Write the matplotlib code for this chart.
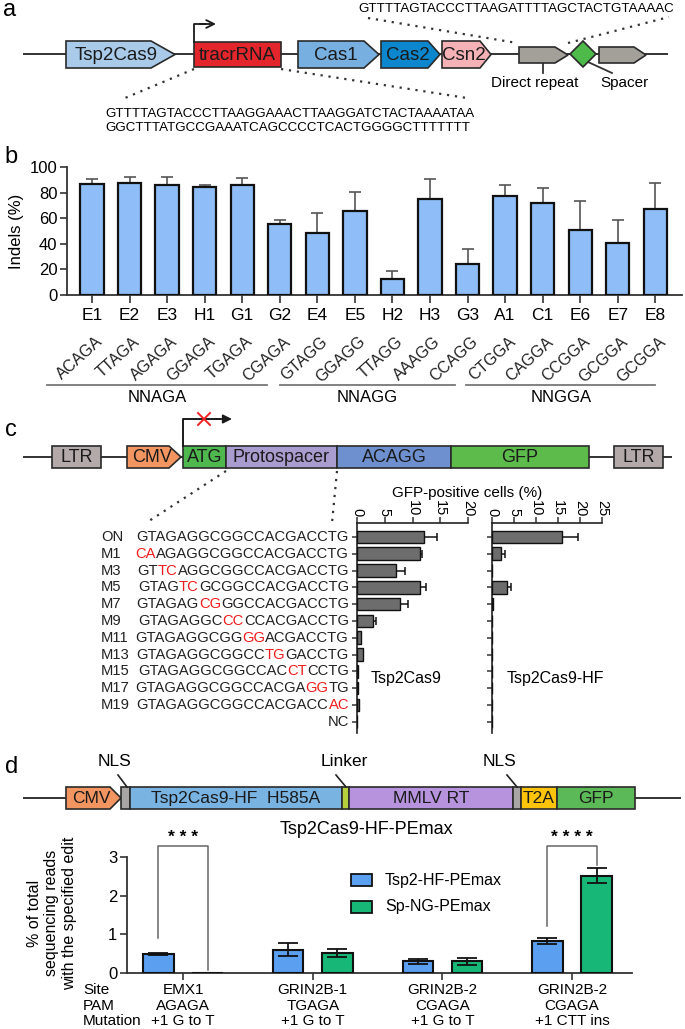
import matplotlib
matplotlib.use("Agg")
import matplotlib.pyplot as plt
from matplotlib.patches import Polygon, Rectangle
from matplotlib.transforms import blended_transform_factory
import numpy as np

plt.rcParams['font.family'] = ['Liberation Sans', 'DejaVu Sans']

W, H = 685, 1029

# ---- data ----
# panel b
b_sites = ["E1", "E2", "E3", "H1", "G1", "G2", "E4", "E5",
           "H2", "H3", "G3", "A1", "C1", "E6", "E7", "E8"]
b_pams = ["ACAGA", "TTAGA", "AGAGA", "GGAGA", "TGAGA", "CGAGA", "GTAGG", "GGAGG",
          "TTAGG", "AAAGG", "CCAGG", "CTGGA", "CAGGA", "CCGGA", "GCGGA", "GCGGA"]
b_indels = [86.7, 88.0, 85.9, 84.6, 86.4, 55.9, 48.3, 65.5,
            12.5, 75.2, 24.3, 77.5, 72.1, 51.2, 40.7, 67.4]
b_err = [3.9, 4.2, 6.8, 1.6, 5.5, 3.1, 16.2, 15.2,
         6.3, 15.7, 12.0, 8.4, 11.5, 22.2, 18.0, 20.6]
b_group_names = ["NNAGA", "NNAGG", "NNGGA"]
b_group_span = [(-1.19, 4.67), (5.01, 9.66), (9.97, 15.0)]

# panel c
c_names = ["ON", "M1", "M3", "M5", "M7", "M9", "M11", "M13", "M15", "M17", "M19", "NC"]
c_seqs = ["GTAGAGGCGGCCACGACCTG", "CAAGAGGCGGCCACGACCTG", "GTTCAGGCGGCCACGACCTG",
          "GTAGTCGCGGCCACGACCTG", "GTAGAGCGGGCCACGACCTG", "GTAGAGGCCCCCACGACCTG",
          "GTAGAGGCGGGGACGACCTG", "GTAGAGGCGGCCTGGACCTG", "GTAGAGGCGGCCACCTCCTG",
          "GTAGAGGCGGCCACGAGGTG", "GTAGAGGCGGCCACGACCAC", ""]
c_red = [None, (0, 2), (2, 4), (4, 6), (6, 8), (8, 10), (10, 12),
         (12, 14), (14, 16), (16, 18), (18, 20), None]
c_wt = [12.1, 11.4, 7.0, 11.3, 7.8, 2.9, 0.7, 1.1, 0.2, 0.1, 0.3, 0.0]
c_wt_err = [2.3, 0.4, 1.7, 1.2, 1.3, 0.5, 0.0, 0.0, 0.0, 0.0, 0.0, 0.0]
c_hf = [16.0, 2.1, 0.0, 3.3, 0.2, 0.0, 0.0, 0.0, 0.0, 0.0, 0.0, 0.0]
c_hf_err = [3.5, 0.8, 0.0, 1.0, 0.0, 0.0, 0.0, 0.0, 0.0, 0.0, 0.0, 0.0]

# panel d
d_sites = ["EMX1", "GRIN2B-1", "GRIN2B-2", "GRIN2B-2"]
d_pams = ["AGAGA", "TGAGA", "CGAGA", "CGAGA"]
d_muts = ["+1 G to T", "+1 G to T", "+1 G to T", "+1 CTT ins"]
d_series = ["Tsp2-HF-PEmax", "Sp-NG-PEmax"]
d_tsp = [0.49, 0.60, 0.30, 0.83]
d_tsp_err = [0.02, 0.17, 0.07, 0.07]
d_sp = [0.0, 0.52, 0.30, 2.52]
d_sp_err = [0.0, 0.10, 0.10, 0.19]

fig = plt.figure(figsize=(W / 100, H / 100), dpi=100)

# overlay in pixel coords for schematics and labels (drawn on top of the data axes)
ov = fig.add_axes([0, 0, 1, 1])
ov.set_xlim(0, W)
ov.set_ylim(H, 0)
ov.axis("off")
ov.set_zorder(10)


def pax(x0, y0, x1, y1):
    return fig.add_axes([x0 / W, 1 - y1 / H, (x1 - x0) / W, (y1 - y0) / H])


def gene(x0, x1, y0, y1, color, tip=0, label=None, fs=12, lw=1.2):
    if tip:
        pts = [(x0, y0), (x1 - tip, y0), (x1, (y0 + y1) / 2), (x1 - tip, y1), (x0, y1)]
    else:
        pts = [(x0, y0), (x1, y0), (x1, y1), (x0, y1)]
    ov.add_patch(Polygon(pts, closed=True, fc=color, ec="#2a2a2a", lw=lw,
                         joinstyle="miter", zorder=3))
    if label:
        ov.text((x0 + x1) / 2 - tip * 0.2, (y0 + y1) / 2 + 0.5, label, ha="center",
                va="center", fontsize=fs, color="#1a1a1a", zorder=4)


def dots(x0, y0, x1, y1):
    ov.plot([x0, x1], [y0, y1], color="#333333", lw=1.6, ls=(0, (1, 2.6)), zorder=2)


def letter(x, y, s):
    ov.text(x, y, s, fontsize=17, ha="left", va="center")


# ================= panel a =================
letter(3, 10, "a")
ov.plot([24, 667], [54, 54], color="#333333", lw=1.4, zorder=1)
gene(66, 175, 41, 68, "#a9cbe9", 24, "Tsp2Cas9", 13.5)
gene(194, 281, 42, 67, "#e3262b", 0, "tracrRNA", 13.5)
gene(298, 379, 41, 68, "#77b0e0", 15, "Cas1", 13.5)
gene(381, 440, 41, 68, "#0c87cd", 12, "Cas2", 13.5)
gene(442, 491, 41, 68, "#f4b2b7", 11, "Csn2", 13.5)
gene(519, 568, 47, 63, "#a39f99", 13)
gene(599, 646, 47, 63, "#a39f99", 12)
ov.add_patch(Polygon([(570, 54), (583, 41), (596, 54), (583, 67)], closed=True,
                     fc="#4dba4a", ec="#2a2a2a", lw=1.2, zorder=3))
ov.plot([194, 194, 205], [42, 24, 24], color="#1a1a1a", lw=1.3, zorder=4)
ov.annotate("", xy=(216, 24), xytext=(200, 24),
            arrowprops=dict(arrowstyle="->", lw=1.3, color="#1a1a1a",
                            mutation_scale=14, shrinkA=0, shrinkB=0))
ov.plot([543, 543], [63, 73], color="#333333", lw=1.3)
ov.plot([588, 612], [62, 73], color="#333333", lw=1.3)
ov.text(535, 83, "Direct repeat", ha="center", va="center", fontsize=11)
ov.text(624, 83, "Spacer", ha="center", va="center", fontsize=11)
ov.text(674, 9, "GTTTTAGTACCCTTAAGATTTTAGCTACTGTAAAAC", ha="right", va="center",
        fontsize=9.6)
dots(368, 18, 517, 43)
dots(568, 43, 669, 17)
dots(194, 69, 125, 98)
dots(281, 69, 467, 98)
ov.text(105, 114, "GTTTTAGTACCCTTAAGGAAACTTAAGGATCTACTAAAATAA", ha="left",
        va="center", fontsize=9.6)
ov.text(105, 128, "GGCTTTATGCCGAAATCAGCCCCTCACTGGGGCTTTTTTT", ha="left",
        va="center", fontsize=9.6)

# ================= panel b =================
letter(4, 157, "b")
axb = pax(67, 167.3, 682, 295)
xb = np.arange(len(b_sites))
axb.bar(xb, b_indels, width=0.62, color="#8fbdf7", edgecolor="#111111",
        linewidth=1.6, zorder=3)
axb.errorbar(xb, b_indels, yerr=[np.zeros(len(b_err)), b_err], fmt="none",
             ecolor="#555555", elinewidth=1.2, capsize=4, capthick=1.2, zorder=2)
axb.set_xlim(-0.666, 15.71)
axb.set_ylim(0, 100)
axb.set_yticks([0, 20, 40, 60, 80, 100])
axb.set_xticks(xb)
axb.set_xticklabels(b_sites, fontsize=12.5)
axb.tick_params(axis="y", labelsize=12, length=5, width=1.2, pad=2, color="#333333")
axb.tick_params(axis="x", length=6, width=1.2, pad=3, color="#333333")
for s in ["top", "right"]:
    axb.spines[s].set_visible(False)
for s in ["left", "bottom"]:
    axb.spines[s].set_linewidth(1.3)
    axb.spines[s].set_color("#333333")
axb.set_ylabel("Indels (%)", fontsize=12, labelpad=4)

trb = blended_transform_factory(axb.transData, ov.transData)
for i, p in enumerate(b_pams):
    ov.text(i + 0.08, 334, p, transform=trb, rotation=42, rotation_mode="anchor",
            ha="right", va="top", fontsize=11.5, color="#222222")
for name, (g0, g1) in zip(b_group_names, b_group_span):
    ov.plot([g0, g1], [385, 385], transform=trb, color="#777777", lw=1.3)
    ov.text((g0 + g1) / 2, 398, name, transform=trb, ha="center", va="center",
            fontsize=12)

# ================= panel c =================
letter(5, 430, "c")
ov.plot([24, 671], [457, 457], color="#333333", lw=1.4, zorder=1)
gene(52, 101, 446, 468, "#b2a9a8", 0, "LTR", 13)
gene(127, 181, 446, 468, "#f29561", 12, "CMV", 13)
gene(183, 226, 446, 468, "#4eb74e", 0, "ATG", 13)
gene(226, 337, 446, 468, "#a99ccf", 0, "Protospacer", 13)
gene(337, 451, 446, 468, "#6e90cf", 0, "ACAGG", 13)
gene(451, 589, 446, 468, "#5dbb4b", 0, "GFP", 13)
gene(614, 663, 446, 468, "#b2a9a8", 0, "LTR", 13)
ov.plot([183, 183, 220], [446, 419, 419], color="#1a1a1a", lw=1.4, zorder=4)
ov.annotate("", xy=(232, 419), xytext=(215, 419),
            arrowprops=dict(arrowstyle="-|>", lw=1.3, color="#1a1a1a",
                            mutation_scale=13, shrinkA=0, shrinkB=0), zorder=4)
ov.plot([198, 210], [413, 425], color="#ee2222", lw=1.4, zorder=5)
ov.plot([198, 210], [425, 413], color="#ee2222", lw=1.4, zorder=5)
dots(226, 471, 149, 521)
dots(337, 471, 332, 523)
ov.text(467, 493, "GFP-positive cells (%)", ha="center", va="center", fontsize=11)

yc = np.arange(len(c_names))
axc1 = pax(357, 523, 468, 733)
axc2 = pax(492, 523, 602, 733)
for ax, vals, errs, xmax, ticks in [(axc1, c_wt, c_wt_err, 20, [0, 5, 10, 15, 20]),
                                    (axc2, c_hf, c_hf_err, 25, [0, 5, 10, 15, 20, 25])]:
    ax.set_facecolor("none")
    ax.barh(yc, vals, height=0.75, color="#6d6d6d", edgecolor="#111111",
            linewidth=1.0, zorder=3)
    ax.errorbar(vals, yc, xerr=[np.zeros(len(errs)), errs], fmt="none",
                ecolor="#111111", elinewidth=1.1, capsize=3, capthick=1.1, zorder=2)
    ax.set_xlim(0, xmax)
    ax.set_ylim(11.67, -0.833)
    ax.xaxis.tick_top()
    ax.set_xticks(ticks)
    ax.set_xticklabels([str(t) for t in ticks], rotation=-90, fontsize=10.5)
    ax.set_yticks(yc)
    ax.set_yticklabels([""] * len(yc))
    ax.tick_params(axis="x", length=4, width=1.1, pad=1, color="#333333")
    ax.tick_params(axis="y", length=3.5, width=1.1, color="#333333")
    ax.spines["right"].set_visible(False)
    ax.spines["bottom"].set_visible(False)
    for s in ["left", "top"]:
        ax.spines[s].set_linewidth(1.2)
        ax.spines[s].set_color("#222222")

trc = blended_transform_factory(ov.transData, axc1.transData)
for i, (nm, sq, rd) in enumerate(zip(c_names, c_seqs, c_red)):
    if not sq:
        ov.text(349, i, nm, transform=trc, ha="right", va="center", fontsize=10.6,
                color="#222222")
        continue
    ov.text(101, i, nm, transform=trc, ha="left", va="center", fontsize=10.6,
            color="#222222")
    if rd is None:
        parts = [(sq, "#222222")]
    else:
        parts = [(sq[:rd[0]], "#222222"), (sq[rd[0]:rd[1]], "#ee1c1c"),
                 (sq[rd[1]:], "#222222")]
    parts = [p for p in parts if p[0]]
    prev = None
    for txt, col in reversed(parts):
        if prev is None:
            prev = ov.text(349, i, txt, transform=trc, ha="right", va="center",
                           fontsize=10.6, color=col)
        else:
            prev = ov.annotate(txt, xy=(0, 0.5), xycoords=prev, ha="right",
                               va="center", fontsize=10.6, color=col)
ov.text(406, 678, "Tsp2Cas9", ha="center", va="center", fontsize=11.5)
ov.text(555, 678, "Tsp2Cas9-HF", ha="center", va="center", fontsize=11.5)

# ================= panel d =================
letter(5, 767, "d")
ov.plot([24, 680], [798, 798], color="#333333", lw=1.4, zorder=1)
gene(66, 121, 787, 809, "#f29561", 11, "CMV", 12.5)
gene(121.5, 130, 787, 809, "#aaa5a5")
gene(130, 342, 787, 809, "#79b3e1", 0, "Tsp2Cas9-HF  H585A", 12.5)
gene(342, 349, 787, 809, "#b6d03e")
gene(349, 513, 787, 809, "#b693dc", 0, "MMLV RT", 12.5)
gene(513, 521, 787, 809, "#aaa5a5")
gene(521, 557, 787, 809, "#fec40c", 0, "T2A", 12.5)
gene(557, 635, 787, 809, "#5cb957", 0, "GFP", 12.5)
for lx, lab, (a0, a1, b0, b1) in [(115, "NLS", (118, 127, 775, 787)),
                                  (344, "Linker", (336, 346, 775, 787)),
                                  (500, "NLS", (507, 517, 775, 787))]:
    ov.text(lx, 762, lab, ha="center", va="center", fontsize=12.5)
    ov.plot([a0, a1], [b0, b1], color="#222222", lw=1.2, zorder=4)
ov.text(366, 829, "Tsp2Cas9-HF-PEmax", ha="center", va="center", fontsize=13)

axd = pax(127, 857, 632, 973)
axd.set_facecolor("none")
xd = np.arange(len(d_sites))
off = 0.19
bw = 0.235
axd.bar(xd - off, d_tsp, width=bw, color="#5a9ff0", edgecolor="#111111",
        linewidth=1.5, zorder=3)
axd.bar(xd + off, d_sp, width=bw, color="#17b877", edgecolor="#111111",
        linewidth=1.5, zorder=3)
axd.errorbar(xd - off, d_tsp, yerr=d_tsp_err, fmt="none", ecolor="#111111",
             elinewidth=1.3, capsize=7.5, capthick=1.3, zorder=4)
axd.errorbar((xd + off)[1:], d_sp[1:], yerr=d_sp_err[1:], fmt="none", ecolor="#111111",
             elinewidth=1.3, capsize=7.5, capthick=1.3, zorder=4)
axd.set_xlim(-0.432, 3.462)
axd.set_ylim(0, 3)
axd.set_yticks([0, 1, 2, 3])
axd.set_xticks(xd)
axd.set_xticklabels([""] * len(xd))
axd.tick_params(axis="y", labelsize=12, length=5, width=1.2, pad=2, color="#333333")
axd.tick_params(axis="x", length=5, width=1.2, color="#333333")
for s in ["top", "right"]:
    axd.spines[s].set_visible(False)
for s in ["left", "bottom"]:
    axd.spines[s].set_linewidth(1.3)
    axd.spines[s].set_color("#333333")

# significance brackets
for gi, yl, yr, stars in [(0, 0.9, 0.08, "* * *"), (3, 1.22, 2.79, "* * * *")]:
    axd.plot([gi - off, gi - off, gi + off, gi + off], [yl, 3.28, 3.28, yr],
             color="#666666", lw=1.1, clip_on=False)
    axd.text(gi, 3.31, stars, ha="center", va="bottom", fontsize=12.5,
             fontweight="bold", clip_on=False)

ov.text(52, 913, "% of total\nsequencing reads\nwith the specified edit",
        rotation=90, ha="center", va="center", fontsize=11.5, linespacing=1.2,
        multialignment="center")

# legend drawn by hand
for k, (nm, col) in enumerate(zip(d_series, ["#5a9ff0", "#17b877"])):
    yy = 880 + 27 * k
    ov.add_patch(Rectangle((351, yy - 6), 21, 12, fc=col, ec="#111111", lw=1.3))
    ov.text(385, yy, nm, ha="left", va="center", fontsize=11.5)

trd = blended_transform_factory(axd.transData, ov.transData)
for row, (lab, vals) in enumerate([("Site", d_sites), ("PAM", d_pams),
                                   ("Mutation", d_muts)]):
    yy = 990 + 15.5 * row
    ov.text(83, yy, lab, ha="left", va="center", fontsize=11)
    for i, v in enumerate(vals):
        ov.text(i, yy, v, transform=trd, ha="center", va="center", fontsize=11)

fig.savefig("out.png", dpi=100)
